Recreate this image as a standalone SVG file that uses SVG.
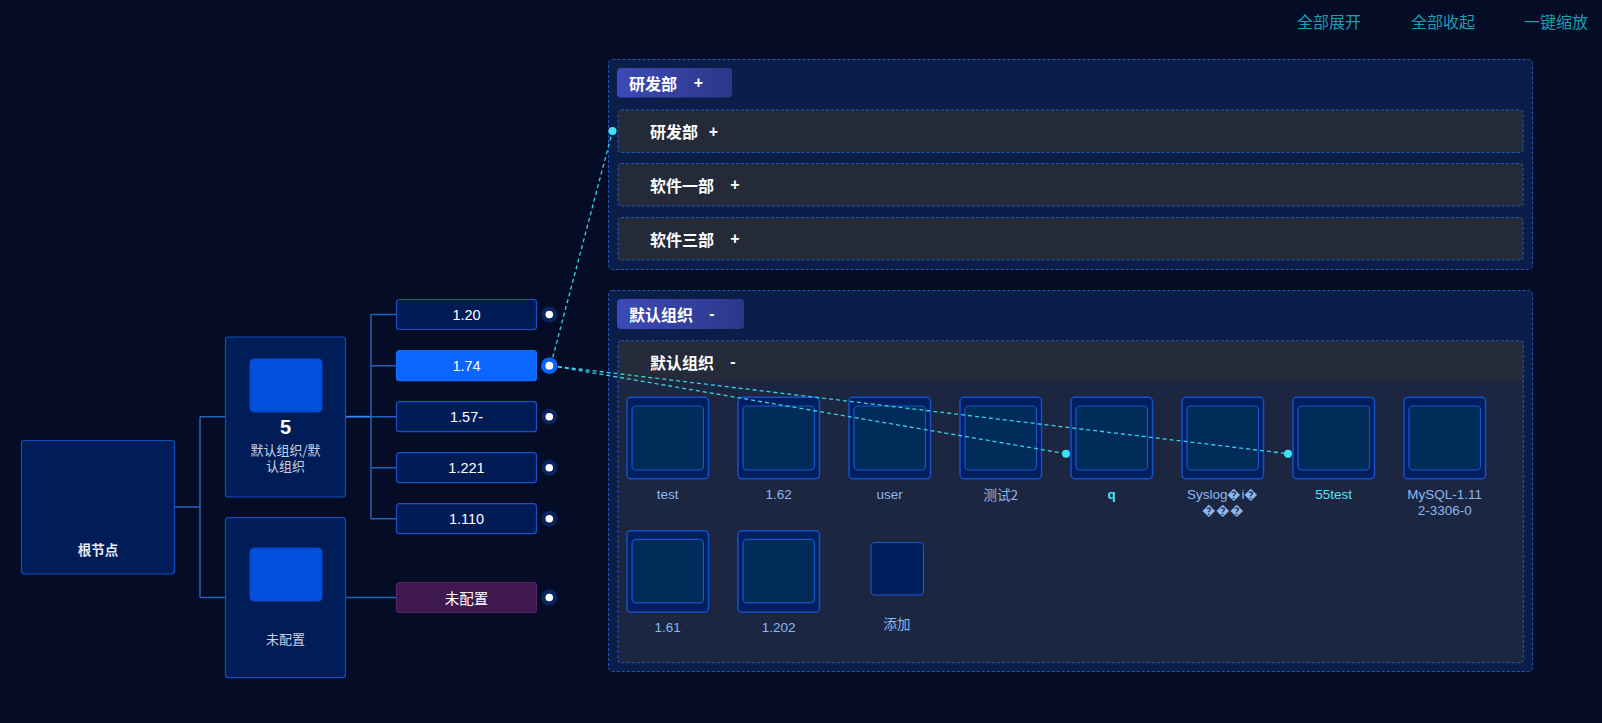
<svg xmlns="http://www.w3.org/2000/svg" width="1602" height="723" viewBox="0 0 1602 723">
<defs>
<linearGradient id="tabg" x1="0" y1="0" x2="1" y2="0">
<stop offset="0" stop-color="#3d4ab6"/>
<stop offset="1" stop-color="#2a3889"/>
</linearGradient>
<style>
text{font-family:"Liberation Sans","Noto Sans CJK SC",sans-serif;dominant-baseline:central;}
.cjk{font-family:"Noto Sans CJK SC","Liberation Sans",sans-serif;}
.btn{fill:#1b9db4;font-size:16px;}
.node{fill:#001d57;stroke:#0f4fbf;stroke-width:1.2;}
.sq{fill:#0050dc;stroke:#0a48c8;stroke-width:1;}
.nlab{fill:#c9d1e2;font-size:13px;text-anchor:middle;}
.ip{fill:#011c55;stroke:#1752c8;stroke-width:1.2;}
.iptxt{fill:#ffffff;font-size:14.5px;text-anchor:middle;}
.dot{fill:#0a2460;}
.dotin{fill:#ffffff;}
.tree{stroke:#2661b8;stroke-width:1.5;fill:none;}
.panel{fill:#0b1e4a;stroke:#2259b8;stroke-width:1;stroke-dasharray:3 2;}
.row{fill:#242a38;stroke:#2259b8;stroke-width:1;stroke-dasharray:3 2;}
.tab{fill:url(#tabg);}
.ttl{fill:#ffffff;font-size:16px;font-weight:bold;}
.card{fill:#011f5e;stroke:#1450c8;stroke-width:1.5;}
.cardin{fill:#012b59;stroke:#1656cc;stroke-width:1.2;}
.clab{fill:#8ab8ef;font-size:13.5px;text-anchor:middle;}
.chl{fill:#52e3f2;}
.link{stroke:#35d3e6;stroke-width:1.3;stroke-dasharray:4 3;fill:none;}
.ep{fill:#3de3f5;}
</style>
</defs>
<rect width="1602" height="723" fill="#040d25"/>

<g id="toolbar">
<text class="btn cjk" x="1297" y="21">全部展开</text>
<text class="btn cjk" x="1411" y="21">全部收起</text>
<text class="btn cjk" x="1524" y="21">一键缩放</text>
</g>

<g id="panel-yanfa">
<rect class="panel" x="608.5" y="59.5" width="924" height="210" rx="4"/>
<rect class="tab" x="617" y="68" width="115" height="29.5" rx="4"/>
<text class="ttl cjk" x="629" y="82.5">研发部</text>
<text class="ttl" x="698.5" y="82.5" text-anchor="middle">+</text>
<g id="row-yanfa">
<rect class="row" x="618" y="110" width="905" height="42.5" rx="3"/>
<text class="ttl cjk" x="650" y="131">研发部</text>
<text class="ttl" x="713.5" y="131" text-anchor="middle">+</text>
</g>
<g id="row-soft1">
<rect class="row" x="618" y="163.5" width="905" height="42.5" rx="3"/>
<text class="ttl cjk" x="650" y="184.5">软件一部</text>
<text class="ttl" x="735" y="184.5" text-anchor="middle">+</text>
</g>
<g id="row-soft3">
<rect class="row" x="618" y="217.5" width="905" height="42.5" rx="3"/>
<text class="ttl cjk" x="650" y="238.5">软件三部</text>
<text class="ttl" x="735" y="238.5" text-anchor="middle">+</text>
</g>
</g>

<g id="panel-default">
<rect class="panel" x="608.5" y="290.5" width="924" height="381" rx="4"/>
<rect class="tab" x="617" y="299" width="127" height="30" rx="4"/>
<text class="ttl cjk" x="629" y="313.5">默认组织</text>
<text class="ttl" x="712" y="313.5" text-anchor="middle">-</text>
<g id="group-default">
<rect x="618" y="340.7" width="905.3" height="322" rx="3" fill="#1c2640"/>
<rect x="618.5" y="341.2" width="904.3" height="39.5" fill="#252b3a"/>
<rect x="618" y="340.7" width="905.3" height="322" rx="3" fill="none" stroke="#2259b8" stroke-width="1" stroke-dasharray="3 2"/>
<text class="ttl cjk" x="650" y="361.5">默认组织</text>
<text class="ttl" x="733" y="361.5" text-anchor="middle">-</text>
</g>
</g>

<g id="dev-test"><rect class="card" x="627" y="397.3" width="81.5" height="81.5" rx="4"/><rect class="cardin" x="632" y="406" width="71.5" height="64" rx="4"/><text class="clab" x="667.7" y="494.3">test</text></g>
<g id="dev-162"><rect class="card" x="738" y="397.3" width="81.5" height="81.5" rx="4"/><rect class="cardin" x="743" y="406" width="71.5" height="64" rx="4"/><text class="clab" x="778.7" y="494.3">1.62</text></g>
<g id="dev-user"><rect class="card" x="849" y="397.3" width="81.5" height="81.5" rx="4"/><rect class="cardin" x="854" y="406" width="71.5" height="64" rx="4"/><text class="clab" x="889.7" y="494.3">user</text></g>
<g id="dev-test2"><rect class="card" x="960" y="397.3" width="81.5" height="81.5" rx="4"/><rect class="cardin" x="965" y="406" width="71.5" height="64" rx="4"/><text class="clab cjk" x="1000.7" y="494.3">测试2</text></g>
<g id="dev-q"><rect class="card" x="1071" y="397.3" width="81.5" height="81.5" rx="4"/><rect class="cardin" x="1076" y="406" width="71.5" height="64" rx="4"/><text class="clab chl" x="1111.7" y="494.3" font-weight="bold">q</text></g>
<g id="dev-syslog"><rect class="card" x="1182" y="397.3" width="81.5" height="81.5" rx="4"/><rect class="cardin" x="1187" y="406" width="71.5" height="64" rx="4"/><text class="clab" x="1222.7" y="494.3">Syslog�i�</text><text class="clab" x="1222.7" y="510.5">���</text></g>
<g id="dev-55test"><rect class="card" x="1293" y="397.3" width="81.5" height="81.5" rx="4"/><rect class="cardin" x="1298" y="406" width="71.5" height="64" rx="4"/><text class="clab chl" x="1333.7" y="494.3">55test</text></g>
<g id="dev-mysql"><rect class="card" x="1404" y="397.3" width="81.5" height="81.5" rx="4"/><rect class="cardin" x="1409" y="406" width="71.5" height="64" rx="4"/><text class="clab" x="1444.7" y="494.3">MySQL-1.11</text><text class="clab" x="1444.7" y="510.5">2-3306-0</text></g>
<g id="dev-161"><rect class="card" x="627" y="530.7" width="81.5" height="81.5" rx="4"/><rect class="cardin" x="632" y="539.4" width="71.5" height="63.5" rx="4"/><text class="clab" x="667.7" y="627.3">1.61</text></g>
<g id="dev-1202"><rect class="card" x="738" y="530.7" width="81.5" height="81.5" rx="4"/><rect class="cardin" x="743" y="539.4" width="71.5" height="63.5" rx="4"/><text class="clab" x="778.7" y="627.3">1.202</text></g>
<g id="dev-add"><rect x="871" y="542.5" width="52.5" height="52.5" rx="4" fill="#011f5e" stroke="#1656cc" stroke-width="1.2"/><text class="clab cjk" x="897" y="623.3">添加</text></g>

<g id="connectors">
<path class="tree" d="M174.5 507H200M200 416.7V597.5M200 416.7H225M200 597.5H225"/>
<path d="M345.5 416.7H371" stroke="#3a86ef" stroke-width="1.8" fill="none"/>
<path class="tree" d="M371 314.5V518.7M371 314.5H396.5M371 365.7H396.5M371 416.7H396.5M371 467.7H396.5M371 518.7H396.5M345.5 597.5H396.5"/>
<path class="link" d="M551 364L612.5 131"/>
<path class="link" d="M551 365.7L1066 453.7"/>
<path class="link" d="M551 365.7L1288 453.7"/>
<circle class="ep" cx="612.5" cy="131" r="4"/>
<circle class="ep" cx="1066" cy="453.7" r="4"/>
<circle class="ep" cx="1288" cy="453.7" r="4"/>
</g>

<g id="root">
<rect class="node" x="21.5" y="440.5" width="153" height="133.5" rx="3"/>
<text class="cjk" x="98" y="549" fill="#e6ebf5" font-size="13.5" font-weight="bold" text-anchor="middle">根节点</text>
</g>

<g id="org-default">
<rect class="node" x="225.5" y="337" width="120" height="160" rx="3"/>
<rect class="sq" x="250" y="359" width="72" height="53" rx="4"/>
<text x="285.5" y="427" fill="#ffffff" font-size="20" font-weight="600" text-anchor="middle">5</text>
<text class="nlab cjk" x="285.5" y="449.3">默认组织/默</text>
<text class="nlab cjk" x="285.5" y="465.3">认组织</text>
</g>

<g id="org-unset">
<rect class="node" x="225.5" y="517.7" width="120" height="160" rx="3"/>
<rect class="sq" x="250" y="548" width="72" height="53" rx="4"/>
<text class="nlab cjk" x="285.5" y="638">未配置</text>
</g>

<g id="ip-120"><rect class="ip" x="396.5" y="299.5" width="140" height="30" rx="3"/><text class="iptxt" x="466.5" y="314.5">1.20</text><circle class="dot" cx="549.3" cy="314.5" r="8"/><circle class="dotin" cx="549.3" cy="314.5" r="3.8"/></g>
<g id="ip-174"><rect x="396.5" y="350.7" width="140" height="30" rx="3" fill="#0a66ff" stroke="#1a6cff" stroke-width="1.2"/><text class="iptxt" x="466.5" y="365.7">1.74</text><circle cx="549.3" cy="365.7" r="8.3" fill="#0a66ff"/><circle class="dotin" cx="549.3" cy="365.7" r="3.9"/></g>
<g id="ip-157"><rect class="ip" x="396.5" y="401.7" width="140" height="30" rx="3"/><text class="iptxt" x="466.5" y="416.7">1.57-</text><circle class="dot" cx="549.3" cy="416.7" r="8"/><circle class="dotin" cx="549.3" cy="416.7" r="3.8"/></g>
<g id="ip-1221"><rect class="ip" x="396.5" y="452.7" width="140" height="30" rx="3"/><text class="iptxt" x="466.5" y="467.7">1.221</text><circle class="dot" cx="549.3" cy="467.7" r="8"/><circle class="dotin" cx="549.3" cy="467.7" r="3.8"/></g>
<g id="ip-1110"><rect class="ip" x="396.5" y="503.7" width="140" height="30" rx="3"/><text class="iptxt" x="466.5" y="518.7">1.110</text><circle class="dot" cx="549.3" cy="518.7" r="8"/><circle class="dotin" cx="549.3" cy="518.7" r="3.8"/></g>
<g id="ip-unset"><rect x="396.5" y="582.5" width="140" height="30" rx="3" fill="#3f1850" stroke="#562268" stroke-width="1.2"/><text class="iptxt cjk" x="466.5" y="597.5">未配置</text><circle class="dot" cx="549.3" cy="597.5" r="8"/><circle class="dotin" cx="549.3" cy="597.5" r="3.8"/></g>
</svg>
